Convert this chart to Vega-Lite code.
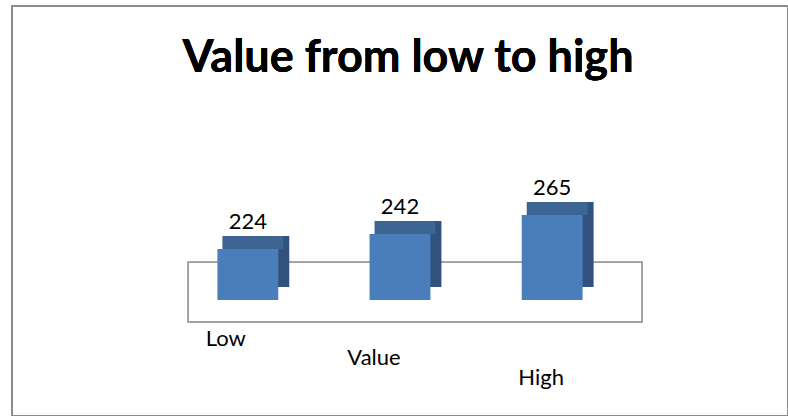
{
  "$schema": "https://vega.github.io/schema/vega-lite/v6.json",
  "width": 788,
  "height": 416,
  "autosize": {"type": "fit", "contains": "padding"},
  "padding": {"left": 12, "top": 6, "right": 0, "bottom": 0},
  "background": "white",
  "config": {"view": {"stroke": "#8c8c8c", "strokeWidth": 2}, "font": "Lato"},
  "data": {"values": [
    {"category": "Low", "value": 224},
    {"category": "Value", "value": 242},
    {"category": "High", "value": 265}
  ]},
  "layer": [
    {
      "mark": {"type": "text", "text": "Value from low to high", "fontSize": 45, "fontWeight": "bold", "font": "Lato", "color": "#000000", "align": "center", "baseline": "alphabetic", "dx": 8},
      "encoding": {
        "x": {"datum": "Value", "type": "nominal"},
        "y": {"datum": 437.5, "type": "quantitative"}
      }
    },
    {
      "mark": {"type": "rect", "filled": false, "stroke": "#a0a0a0", "strokeWidth": 1.5},
      "encoding": {
        "x": {"datum": "Low", "type": "nominal", "bandPosition": -0.48},
        "x2": {"datum": "High", "bandPosition": 1.98},
        "y": {"datum": 208, "type": "quantitative"},
        "y2": {"datum": 136}
      }
    },
    {
      "mark": {"type": "bar", "color": "#30527c", "xOffset": 11, "yOffset": -13, "y2Offset": -13},
      "encoding": {
        "x": {"field": "category", "type": "nominal"},
        "y": {"field": "value", "type": "quantitative"},
        "y2": {"datum": 162.5}
      }
    },
    {
      "mark": {"type": "bar", "color": "#3d6594", "xOffset": 5, "yOffset": -13, "y2Offset": 0},
      "encoding": {
        "x": {"field": "category", "type": "nominal"},
        "y": {"field": "value", "type": "quantitative"},
        "y2": {"field": "value"}
      }
    },
    {
      "mark": {"type": "bar", "color": "#4a7ebb"},
      "encoding": {
        "x": {"field": "category", "type": "nominal"},
        "y": {"field": "value", "type": "quantitative"},
        "y2": {"datum": 162.5}
      }
    },
    {
      "mark": {"type": "text", "baseline": "alphabetic", "dy": -20, "fontSize": 22, "font": "Lato", "color": "#000000"},
      "encoding": {
        "x": {"field": "category", "type": "nominal"},
        "y": {"field": "value", "type": "quantitative"},
        "text": {"field": "value", "type": "quantitative"}
      }
    }
  ],
  "encoding": {
    "x": {
      "field": "category", "type": "nominal",
      "scale": {"domain": ["", "Low", "Value", "High", " "], "paddingInner": 0.6, "paddingOuter": 0.35},
      "axis": {
        "title": null, "domain": false, "ticks": false, "grid": false, "orient": "bottom", "offset": -90,
        "labelAngle": 0, "labelFontSize": 22, "labelFont": "Lato", "labelColor": "#000000", "labelBaseline": "top",
        "labelPadding": {"condition": [{"test": "datum.value === 'Low'", "value": 2}, {"test": "datum.value === 'Value'", "value": 21}], "value": 41},
        "labelOffset": {"condition": [{"test": "datum.value === 'Low'", "value": -22}, {"test": "datum.value === 'Value'", "value": -26}], "value": -11}
      }
    },
    "y": {"type": "quantitative", "scale": {"domain": [22.6, 517.1], "zero": false, "nice": false}, "axis": null}
  }
}
